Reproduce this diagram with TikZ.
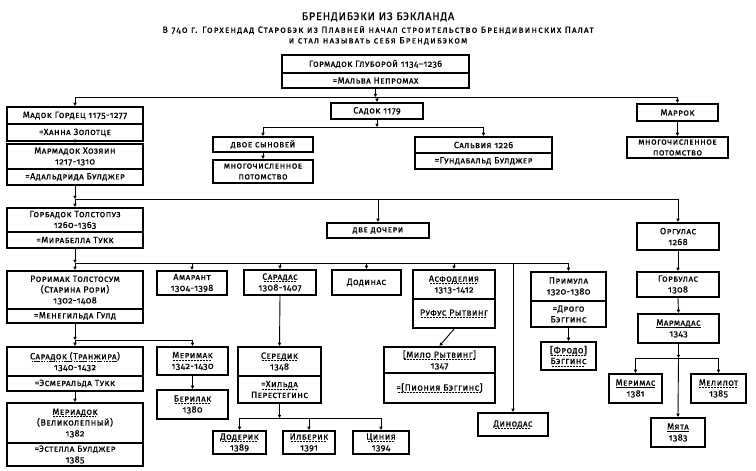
\documentclass[tikz,border=0pt]{standalone}
\usepackage{fontspec}
\setmainfont{Fira Sans}[Letters=SmallCaps,Numbers=OldStyle,LetterSpace=5,FakeBold=0.6]
\newfontfamily\ttlfont{Fira Sans}[Letters=SmallCaps,Numbers=OldStyle,LetterSpace=13,FakeBold=0.6]
\newfontfamily\headfont{Fira Sans}[Letters=SmallCaps,Numbers=OldStyle,LetterSpace=7,FakeBold=0.6]
\usetikzlibrary{arrows.meta}
\newcommand\ud[1]{\setbox0=\hbox{#1}\leavevmode\rlap{\raisebox{-2pt}{\hbox to \wd0{\cleaders\hbox{\rule{2pt}{0.5pt}\hskip1pt}\hfill}}}\box0}
\newcommand\us[1]{\setbox0=\hbox{#1}\leavevmode\rlap{\raisebox{-2pt}{\rule{\wd0}{0.5pt}}}\box0}
\newcommand\bx[6]{%
 \pgfmathsetmacro\bxw{#4-#2}\pgfmathsetmacro\bxh{#5-#3}%
 \pgfmathsetmacro\bxx{(#2+#4)/2}\pgfmathsetmacro\bxy{(#3+#5)/2}%
 \node[box,minimum width=\bxw pt,minimum height=\bxh pt] (#1) at (\bxx,\bxy) {#6};}
\tikzset{
 box/.style={draw,line width=2.2pt,inner sep=0pt,align=center,font=\fontsize{9}{10.8}\selectfont},
 con/.style={line width=0.9pt},
 arr/.style={con,-{Triangle[length=3.2pt,width=3.2pt]}},
 ttl/.style={inner sep=0pt}
}
\begin{document}
\begin{tikzpicture}[x=1pt,y=-1pt]
\useasboundingbox (0,0) rectangle (756,471);
\node[ttl,font=\headfont\fontsize{11}{12}\selectfont] (t1) at (378,17) {БРЕНДИБЭКИ ИЗ БЭКЛАНДА};
\node[ttl,font=\ttlfont\fontsize{9}{10}\selectfont] (t2) at (378,30) {В 740 г. Горхендад Старобэк из Плавней начал строительство Брендивинских Палат};
\node[ttl,font=\ttlfont\fontsize{9}{10}\selectfont] (t3) at (378,41) {и стал называть себя Брендибэком};

\bx{gorm1}{282}{55}{469}{73}{Гормадок Глуборой 1134–1236}
\bx{gorm2}{282}{73}{469}{88}{=Мальва Непромах}

\bx{madok1}{7}{107}{143}{124}{Мадок Гордец 1175-1277}
\bx{madok2}{7}{124}{143}{141}{=Ханна Золотце}
\bx{marm1}{7}{144}{143}{169}{Мармадок Хозяин\\1217-1310}
\bx{marm2}{7}{169}{143}{185}{=Адальдрида Булджер}
\bx{sadok}{331}{103}{423}{119}{Садок 1179}
\bx{dvoe}{213}{137}{313}{152}{двое сыновей}
\bx{mnog1}{213}{160}{313}{183}{многочисленное\\потомство}
\bx{salv1}{415}{137}{552}{153}{Сальвия 1226}
\bx{salv2}{415}{153}{552}{169}{=Гундабальд Булджер}
\bx{marrok}{637}{104}{718}{121}{Маррок}
\bx{mnog2}{627}{137}{728}{158}{многочисленное\\потомство}

\bx{gorb1}{7}{208}{143}{232}{Горбадок Толстопуз\\1260-1363}
\bx{gorb2}{7}{232}{143}{248}{=Мирабелла Тукк}
\bx{dochi}{327}{223}{429}{238}{две дочери}
\bx{orgu}{637}{223}{719}{250}{Оргулас\\1268}

\bx{rori1}{7}{271}{143}{309}{Роримак Толстосум\\(Старина Рори)\\1302-1408}
\bx{rori2}{7}{309}{143}{323}{=Менегильда Гулд}
\bx{amar}{157}{271}{227}{295}{Амарант\\1304-1398}
\bx{sarad}{244}{270}{316}{295}{\ud{Сарадас}\\1308-1407}
\bx{dodin}{332}{270}{401}{295}{Додинас}
\bx{asfo1}{413}{270}{495}{299}{\ud{Асфоделия}\\1313-1412}
\bx{asfo2}{413}{299}{495}{328}{\ud{Руфус Рытвинг}}
\bx{prim1}{531}{272}{606}{301}{Примула\\1320-1380}
\bx{prim2}{531}{301}{606}{327}{=Дрого\\Бэггинс}
\bx{gorbu}{637}{272}{719}{297}{Горбулас\\1308}
\bx{marma}{638}{314}{719}{343}{\us{Мармадас}\\1343}

\bx{sardk1}{7}{347}{143}{376}{\ud{Сарадок (Транжира)}\\1340-1432}
\bx{sardk2}{7}{376}{143}{391}{=Эсмеральда Тукк}
\bx{merimak}{157}{347}{228}{375}{\ud{Меримак}\\1342-1430}
\bx{beril}{157}{390}{228}{419}{\ud{Берилак}\\1380}
\bx{meri1}{7}{403}{143}{443}{\ud{Мериадок}\\(Великолепный)\\1382}
\bx{meri2}{7}{443}{143}{466}{=Эстелла Булджер\\1385}
\bx{sered1}{238}{347}{321}{376}{\ud{Середик}\\1348}
\bx{sered2}{238}{376}{321}{403}{\ud{=Хильда}\\Перестегинс}
\bx{doder}{213}{431}{266}{454}{\ud{Додерик}\\1389}
\bx{ilber}{283}{431}{335}{454}{\ud{Илберик}\\1391}
\bx{cin}{353}{431}{409}{454}{\ud{Циния}\\1394}
\bx{milo1}{384}{347}{495}{373}{\ud{[Мило Рытвинг]}\\1347}
\bx{milo2}{384}{373}{495}{403}{\ud{=[Пиония Бэггинс]}}
\bx{dinod}{478}{413}{548}{436}{\ud{Динодас}}
\bx{frodo}{541}{342}{596}{370}{\ud{[Фродо]}\\\ud{Бэггинс}}
\bx{merim}{609}{374}{662}{403}{\us{Меримас}\\1381}
\bx{melil}{691}{374}{746}{403}{\ud{Мелилот}\\1385}
\bx{myata}{651}{418}{705}{447}{\us{Мята}\\1383}

% level 1
\coordinate (h1) at (0,97);
\draw[arr] (gorm2.south) -- (gorm2.south |- h1);
\draw[con] (madok1.north |- h1) -- (marrok.north |- h1);
\draw[arr] (madok1.north |- h1) -- (madok1.north);
\draw[arr] (sadok.north |- h1) -- (sadok.north);
\draw[arr] (marrok.north |- h1) -- (marrok.north);
\draw[arr] (madok2.south) -- (marm1.north);
% sadok
\coordinate (h2) at (0,127);
\draw[arr] (sadok.south) -- (sadok.south |- h2);
\draw[con] (dvoe.north |- h2) -- (salv1.north |- h2);
\draw[arr] (dvoe.north |- h2) -- (dvoe.north);
\draw[arr] (salv1.north |- h2) -- (salv1.north);
\draw[arr] (dvoe.south) -- (mnog1.north);
\draw[arr] (marrok.south) -- (mnog2.north);
% marmadok
\coordinate (h3) at (0,199);
\draw[arr] (marm2.south) -- (marm2.south |- h3);
\draw[con] (gorb1.north |- h3) -- (orgu.north |- h3);
\draw[arr] (gorb1.north |- h3) -- (gorb1.north);
\draw[arr] (dochi.north |- h3) -- (dochi.north);
\draw[arr] (orgu.north |- h3) -- (orgu.north);
% gorbadok
\coordinate (h4) at (0,263);
\draw[arr] (gorb2.south) -- (gorb2.south |- h4);
\draw[con] (rori1.north |- h4) -- (prim1.north |- h4);
\draw[arr] (rori1.north |- h4) -- (rori1.north);
\draw[arr] (amar.north |- h4) -- (amar.north);
\draw[arr] (sarad.north |- h4) -- (sarad.north);
\draw[arr] (dodin.north |- h4) -- (dodin.north);
\draw[arr] (asfo1.north |- h4) -- (asfo1.north);
\draw[arr] (prim1.north |- h4) -- (prim1.north);
\draw[arr] (dinod.north |- h4) -- (dinod.north);
% rorimak
\coordinate (h5) at (0,340);
\draw[arr] (rori2.south) -- (rori2.south |- h5);
\draw[con] (sardk1.north |- h5) -- (merimak.north |- h5);
\draw[arr] (sardk1.north |- h5) -- (sardk1.north);
\draw[arr] (merimak.north |- h5) -- (merimak.north);
\draw[arr] (sardk2.south) -- (meri1.north);
\draw[arr] (merimak.south) -- (beril.north);
% saradas
\draw[arr] (sarad.south) -- (sered1.north);
\coordinate (h6) at (0,418);
\draw[arr] (sered2.south) -- (sered2.south |- h6);
\draw[con] (doder.north |- h6) -- (cin.north |- h6);
\draw[arr] (doder.north |- h6) -- (doder.north);
\draw[arr] (ilber.north |- h6) -- (ilber.north);
\draw[arr] (cin.north |- h6) -- (cin.north);
% asfodelia, primula
\draw[arr] (asfo2.south) -- (milo1.north);
\draw[arr] (prim2.south) -- (frodo.north);
% orgulas line
\draw[arr] (orgu.south) -- (gorbu.north);
\draw[arr] (gorbu.south) -- (marma.north);
\coordinate (h7) at (0,358);
\draw[arr] (marma.south) -- (marma.south |- h7);
\draw[con] (merim.north |- h7) -- (melil.north |- h7);
\draw[arr] (merim.north |- h7) -- (merim.north);
\draw[arr] (melil.north |- h7) -- (melil.north);
\draw[arr] (marma.south |- h7) -- (myata.north);
\end{tikzpicture}
\end{document}
